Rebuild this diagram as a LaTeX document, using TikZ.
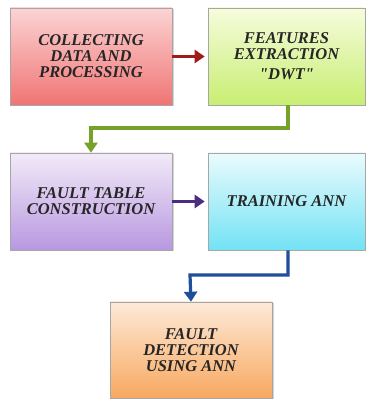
\documentclass[tikz,border=0pt]{standalone}
\usepackage{fontspec}
\setmainfont{Liberation Serif}[Ligatures=TeXOff]
\usetikzlibrary{arrows.meta,shadows}
\definecolor{txt}{HTML}{262626}
\definecolor{r1}{HTML}{FCD4D4}\definecolor{r2}{HTML}{F07474}
\definecolor{g1}{HTML}{F6FCDC}\definecolor{g2}{HTML}{C8EE72}
\definecolor{p1}{HTML}{F2EAF8}\definecolor{p2}{HTML}{B898E0}
\definecolor{c1}{HTML}{EAFBFD}\definecolor{c2}{HTML}{72E2F4}
\definecolor{o1}{HTML}{FDEAD8}\definecolor{o2}{HTML}{F8A860}
\definecolor{ar}{HTML}{A01C1C}
\definecolor{ag}{HTML}{76A22A}
\definecolor{ap}{HTML}{4B2C7E}
\definecolor{ab}{HTML}{1F4E9A}
\tikzset{
  x=1pt,y=1pt,
  blk/.style={draw=gray!70,line width=0.6pt,minimum height=97pt,align=center,
    font=\fontsize{16.5}{16}\selectfont\bfseries\itshape,text=txt,
    drop shadow={shadow xshift=1.5pt,shadow yshift=-1.5pt,opacity=0.35}},
  conn/.style={line width=3.2pt,-{Triangle[length=10pt,width=13pt]}},
}
\begin{document}
\begin{tikzpicture}
\useasboundingbox (0,0) rectangle (366,401);
\node[blk,minimum width=162pt,top color=r1,bottom color=r2] (b1) at (91,344.5) {COLLECTING\\DATA AND\\PROCESSING};
\node[blk,minimum width=157pt,top color=g1,bottom color=g2] (b2) at (286.5,344.5) {FEATURES\\EXTRACTION\\[4pt]"DWT"};
\node[blk,minimum width=162pt,top color=p1,bottom color=p2] (b3) at (91,199.5) {FAULT TABLE\\CONSTRUCTION};
\node[blk,minimum width=157pt,top color=c1,bottom color=c2] (b4) at (286.5,199.5) {TRAINING ANN};
\node[blk,minimum width=162pt,minimum height=96pt,top color=o1,bottom color=o2] (b5) at (191,51) {FAULT\\DETECTION\\USING ANN};
\coordinate (k1) at (91,273);
\coordinate (k2) at (190,126);
\draw[conn,draw=ar] (b1.east) -- ([xshift=-3pt]b2.west);
\draw[conn,draw=ap] (b3.east) -- ([xshift=-3pt]b4.west);
\draw[conn,draw=ag] ([xshift=1.5pt]b2.south) |- (k1) -- (b3.north);
\draw[conn,draw=ab] ([xshift=1.5pt]b4.south) |- (k2) -- (b5.north);
\end{tikzpicture}
\end{document}
